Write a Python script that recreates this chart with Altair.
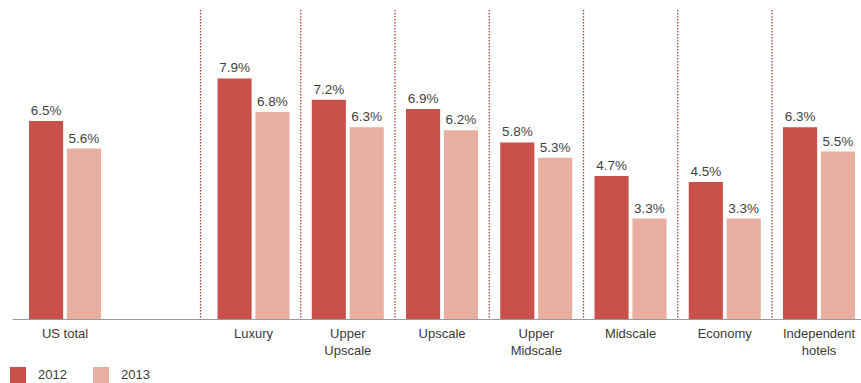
import altair as alt
import pandas as pd

# Hotel segments and their rates (%) for the two years
categories = ["US total", "Luxury", "Upper Upscale", "Upscale", "Upper Midscale",
              "Midscale", "Economy", "Independent hotels"]
rate_2012 = [6.5, 7.9, 7.2, 6.9, 5.8, 4.7, 4.5, 6.3]
rate_2013 = [5.6, 6.8, 6.3, 6.2, 5.3, 3.3, 3.3, 5.5]
years = ["2012", "2013"]
year_colors = ["#c9514a", "#e8afa1"]

# x domain: an empty slot separates the national total from the segments
GAP = " "
x_domain = [categories[0], GAP] + categories[1:]
Y_TOP = 10.15

rows = []
for cat, a, b in zip(categories, rate_2012, rate_2013):
    rows.append({"category": cat, "year": years[0], "rate": a})
    rows.append({"category": cat, "year": years[1], "rate": b})
df = pd.DataFrame(rows)
df["label"] = df["rate"].map(lambda v: f"{v:.1f}%")

x_scale = alt.Scale(domain=x_domain, paddingInner=0.236, paddingOuter=0.122, align=0.74)
y_scale = alt.Scale(domain=[0, Y_TOP], nice=False, zero=True)
off_scale = alt.Scale(domain=years, paddingInner=0.1, paddingOuter=0)

x_enc = alt.X(
    "category:N", scale=x_scale, title=None,
    axis=alt.Axis(
        labelAngle=0, ticks=False, domainColor="#9a9a9a", domainWidth=1.2,
        bandPosition=0.5, labelAlign="center",
        labelPadding=8, labelFontSize=13, labelColor="#3a3a3a",
        labelFont="Liberation Sans", labelLineHeight=17, labelBaseline="top",
        labelExpr="datum.label == 'US total' ? datum.label : split(datum.label, ' ')",
    ),
)
y_enc = alt.Y("rate:Q", scale=y_scale, axis=None)

bars = alt.Chart(df).mark_bar().encode(
    x=x_enc,
    xOffset=alt.XOffset("year:N", scale=off_scale),
    y=y_enc,
    color=alt.Color(
        "year:N", scale=alt.Scale(domain=years, range=year_colors), title=None,
        legend=alt.Legend(
            orient="none", direction="horizontal", legendX=-2, legendY=357,
            symbolType="square", symbolSize=256, symbolStrokeWidth=0, symbolOpacity=1,
            labelFontSize=13, labelColor="#3a3a3a", labelFont="Liberation Sans",
            labelOffset=12, columnPadding=26, padding=0,
        ),
    ),
)

labels = alt.Chart(df).mark_text(
    baseline="bottom", dy=-3, fontSize=13.5, color="#3f3f3f", font="Liberation Sans"
).encode(
    x=alt.X("category:N", scale=x_scale),
    xOffset=alt.XOffset("year:N", scale=off_scale),
    y=y_enc,
    text="label:N",
)

divider_style = dict(color="#a8473f", strokeDash=[1.5, 1.5], strokeWidth=1.3)


def divider_layer(cats, shift):
    frame = pd.DataFrame({"category": cats, "top": Y_TOP, "rate": 0.0})
    return alt.Chart(frame).mark_rule(xOffset=shift, **divider_style).encode(
        x=alt.X("category:N", scale=x_scale, bandPosition=0),
        y=alt.Y("top:Q", scale=y_scale, axis=None),
        y2="rate:Q",
    )


# the divider in front of the first segment sits in the wide gap
first_divider = divider_layer(categories[1:2], -17)
dividers = divider_layer(categories[2:], -11)

chart = (
    alt.layer(bars, labels, first_divider, dividers)
    .properties(
        width=849, height=309,
        padding={"left": 12, "top": 10, "right": 0, "bottom": 64},
        autosize=alt.AutoSizeParams(type="none"),
        background="white",
    )
    .configure_view(stroke=None)
)

chart.save("out.html", embed_options={"renderer": "svg", "actions": False})
